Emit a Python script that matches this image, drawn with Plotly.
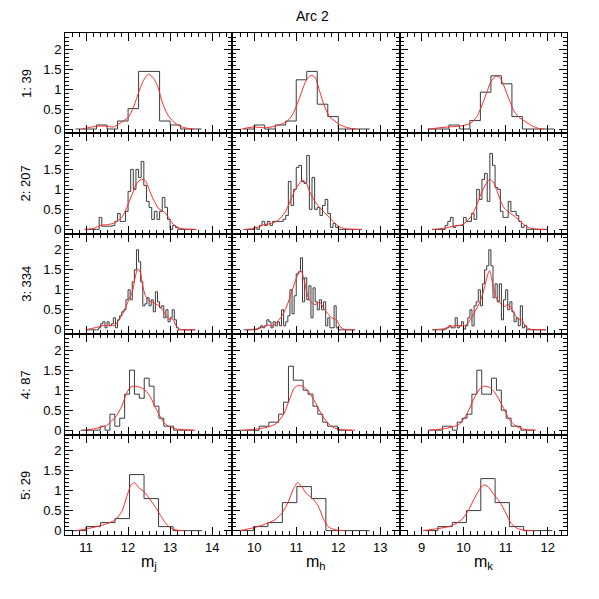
import plotly.graph_objects as go
from plotly.subplots import make_subplots

# rows: field number and star count, columns: bands
row_labels = ["1: 39", "2: 207", "3: 334", "4: 87", "5: 29"]
band_titles = ["m<sub>j</sub>", "m<sub>h</sub>", "m<sub>k</sub>"]
x_ranges = [[10.5, 14.48], [9.48, 13.46], [8.48, 12.46]]
y_range = [-0.11, 2.4]

# histogram bins: first edge and bin width for each row
bin_start_j = [10.75, 11.0, 11.0, 10.87, 10.655]
bin_start_h = [9.75, 9.75, 9.75, 9.65, 9.635]
bin_start_k = [9.15, 9.25, 9.25, 9.15, 9.05]
bin_width_j = [0.25, 0.0625, 0.05, 0.1165, 0.345]
bin_width_h = [0.25, 0.0625, 0.05, 0.1165, 0.345]
bin_width_k = [0.25, 0.0625, 0.05, 0.1165, 0.34]

# histogram heights (normalised)
hist_j1 = [0, 0, 0.1, 0, 0.2, 0.51, 1.44, 1.44, 0.2, 0.1, 0, 0]
hist_h1 = [0, 0.1, 0, 0.1, 0.2, 1.23, 1.44, 0.62, 0.31, 0, 0, 0]
hist_k1 = [0, 0, 0.1, 0, 0.21, 0.92, 1.33, 1.13, 0.31, 0, 0, 0]

hist_j2 = [0, 0, 0, 0, 0, 0.3, 0.08, 0.08, 0.08, 0.08, 0.1, 0.2, 0.4, 0.2, 0.2, 0.45,
           0.95, 1.5, 1.0, 1.5, 1.3, 1.7, 1.1, 0.7, 0.55, 0.25, 0.45, 0.25, 0.45, 0.8,
           0.55, 0.25, 0.0, 0.1, 0.05, 0, 0, 0, 0, 0, 0, 0]
hist_h2 = [0, 0, 0, 0, 0.05, 0, 0.1, 0.2, 0.1, 0.2, 0.1, 0.2, 0.2, 0.2, 0.2, 0.25,
           0.35, 1.2, 0.6, 1.0, 1.55, 1.6, 1.2, 1.15, 1.85, 0.5, 1.3, 0.5, 0.55, 0.35,
           0.6, 0.75, 0.4, 0.05, 0.15, 0.05, 0, 0, 0, 0, 0, 0, 0, 0, 0]
hist_k2 = [0, 0, 0, 0, 0, 0.1, 0.2, 0.3, 0.05, 0.1, 0.1, 0.1, 0.3, 0.2, 0.2, 0.4,
           0.25, 1.0, 0.75, 1.25, 1.4, 0.7, 1.9, 1.6, 1.05, 1.0, 0.45, 0.3, 0.3, 0.7,
           0.45, 0.45, 0.35, 0.2, 0.05, 0.1, 0, 0, 0, 0, 0, 0, 0, 0]

hist_j3 = [0, 0, 0, 0, 0, 0, 0.05, 0.15, 0.2, 0.05, 0.2, 0.1, 0.15, 0.3, 0.05, 0.25,
           0.35, 0.45, 0.5, 0.75, 1.0, 0.75, 1.2, 1.5, 2.0, 1.7, 1.2, 0.6, 0.65, 0.8,
           0.6, 0.75, 0.45, 0.95, 0.7, 0.55, 0.6, 0.3, 0.5, 0.2, 0.3, 0.5, 0.25, 0.05,
           0, 0, 0, 0, 0, 0, 0, 0]
hist_h3 = [0, 0, 0, 0, 0, 0, 0.02, 0.05, 0.1, 0.05, 0.1, 0.25, 0.2, 0.05, 0.2, 0.1,
           0.2, 0.1, 0.5, 0.1, 0.2, 0.35, 1.0, 0.4, 0.85, 1.4, 1.45, 1.8, 0.7, 1.3,
           0.75, 1.1, 0.3, 1.05, 0.7, 0.5, 0.75, 0.5, 0.7, 0.1, 0.3, 0.05, 0.05, 0.6,
           0.05, 0, 0, 0, 0, 0, 0, 0, 0]
hist_k3 = [0, 0, 0, 0, 0, 0, 0.02, 0.05, 0.1, 0.05, 0.05, 0.3, 0.05, 0.1, 0.2, 0.02,
           0.1, 0.3, 0.5, 0.1, 0.6, 0.7, 1.0, 0.6, 1.15, 1.5, 1.6, 2.0, 1.6, 0.8,
           1.15, 0.7, 1.15, 0.25, 0.75, 1.0, 0.5, 0.7, 0.45, 0.2, 0.3, 0.1, 0.6, 0.05,
           0.1, 0, 0, 0, 0, 0, 0, 0, 0, 0]

hist_j4 = [0, 0, 0, 0, 0.1, 0, 0.4, 0.1, 0.3, 0.9, 1.5, 0.9, 0.8, 1.3, 1.1, 0.6,
           0.3, 0.1, 0.1, 0, 0, 0, 0]
hist_h4 = [0, 0, 0, 0, 0.1, 0.1, 0.2, 0.2, 0.4, 0.7, 1.6, 1.25, 1.25, 1.0, 0.9, 0.6,
           0.4, 0.2, 0.1, 0.1, 0, 0, 0]
hist_k4 = [0, 0, 0, 0.1, 0.1, 0, 0.2, 0.3, 0.4, 0.9, 1.5, 0.9, 0.9, 1.3, 1.0, 0.5,
           0.3, 0.1, 0.1, 0, 0, 0]

hist_j5 = [0, 0.1, 0.2, 0.3, 1.4, 0.8, 0.1, 0, 0]
hist_h5 = [0, 0.1, 0.2, 0.7, 1.1, 0.8, 0, 0, 0]
hist_k5 = [0, 0.1, 0.2, 0.5, 1.3, 0.7, 0.1, 0, 0]

# smooth (red) curves
curve_x_j1 = [10.90, 11.25, 11.49, 11.65, 11.77, 12.01, 12.13, 12.27, 12.37, 12.49, 12.61,
              12.71, 12.81, 12.93, 13.08, 13.24, 13.40, 13.56]
curve_y_j1 = [0, 0.07, 0.07, 0.05, 0.12, 0.30, 0.55, 0.97, 1.22, 1.37, 1.26, 1.05, 0.68,
              0.38, 0.18, 0.07, 0.02, 0]
curve_x_h1 = [9.70, 9.98, 10.24, 10.49, 10.75, 10.89, 11.01, 11.13, 11.24, 11.35, 11.44,
              11.56, 11.68, 11.80, 11.92, 12.03, 12.23, 12.43]
curve_y_h1 = [0, 0.05, 0.03, 0.07, 0.17, 0.32, 0.59, 0.93, 1.22, 1.34, 1.30, 0.93, 0.55,
              0.30, 0.20, 0.11, 0.03, 0]
curve_x_k1 = [9.16, 9.63, 9.88, 10.14, 10.30, 10.42, 10.54, 10.66, 10.78, 10.88, 10.97,
              11.09, 11.21, 11.33, 11.45, 11.61, 11.80, 11.92]
curve_y_k1 = [0, 0.05, 0.07, 0.13, 0.28, 0.55, 0.88, 1.20, 1.32, 1.26, 1.05, 0.72, 0.43,
              0.28, 0.20, 0.09, 0.01, 0]

curve_x_j2 = [10.96, 11.21, 11.33, 11.53, 11.69, 11.85, 11.97, 12.09, 12.21, 12.31, 12.41,
              12.50, 12.61, 12.73, 12.85, 12.96, 13.08, 13.20, 13.36, 13.60]
curve_y_j2 = [0, 0.03, 0.10, 0.12, 0.17, 0.30, 0.55, 0.86, 1.15, 1.25, 1.22, 1.00, 0.73,
              0.52, 0.44, 0.30, 0.12, 0.04, 0.01, 0]
curve_x_h2 = [9.79, 10.02, 10.21, 10.41, 10.57, 10.73, 10.85, 10.97, 11.09, 11.15, 11.24,
              11.32, 11.43, 11.53, 11.62, 11.73, 11.85, 11.96, 12.08, 12.23, 12.55]
curve_y_h2 = [0, 0.03, 0.11, 0.15, 0.23, 0.42, 0.69, 0.98, 1.17, 1.23, 1.15, 0.94, 0.73,
              0.58, 0.48, 0.36, 0.23, 0.11, 0.04, 0.01, 0]
curve_x_k2 = [9.28, 9.55, 9.75, 9.95, 10.07, 10.18, 10.30, 10.42, 10.54, 10.62, 10.70,
              10.78, 10.88, 10.97, 11.09, 11.21, 11.33, 11.45, 11.57, 11.72, 11.96]
curve_y_k2 = [0, 0.03, 0.08, 0.11, 0.19, 0.33, 0.57, 0.90, 1.15, 1.25, 1.19, 1.00, 0.72,
              0.53, 0.42, 0.33, 0.22, 0.11, 0.04, 0.01, 0]

curve_x_j3 = [10.99, 11.29, 11.41, 11.57, 11.69, 11.77, 11.89, 12.01, 12.11, 12.17, 12.23,
              12.29, 12.34, 12.41, 12.49, 12.58, 12.69, 12.79, 12.89, 12.96, 13.06, 13.14,
              13.22, 13.36, 13.60]
curve_y_j3 = [0, 0.07, 0.11, 0.11, 0.12, 0.23, 0.44, 0.73, 0.98, 1.32, 1.52, 1.44, 1.15,
              0.86, 0.73, 0.69, 0.63, 0.55, 0.38, 0.27, 0.27, 0.11, 0.02, 0, 0]
curve_x_h3 = [9.82, 10.10, 10.21, 10.33, 10.45, 10.57, 10.69, 10.81, 10.93, 11.03, 11.11,
              11.19, 11.25, 11.32, 11.44, 11.56, 11.66, 11.76, 11.84, 11.96, 12.04, 12.15,
              12.39]
curve_y_h3 = [0, 0.03, 0.07, 0.12, 0.10, 0.23, 0.40, 0.69, 1.07, 1.36, 1.48, 1.23, 0.94,
              0.73, 0.63, 0.69, 0.52, 0.40, 0.30, 0.25, 0.08, 0.01, 0]
curve_x_k3 = [9.28, 9.55, 9.67, 9.87, 10.03, 10.12, 10.22, 10.33, 10.42, 10.50, 10.58,
              10.62, 10.67, 10.74, 10.82, 10.89, 10.97, 11.05, 11.13, 11.21, 11.29, 11.38,
              11.49, 11.57, 11.96]
curve_y_k3 = [0, 0.03, 0.08, 0.11, 0.10, 0.19, 0.36, 0.57, 0.78, 1.07, 1.40, 1.48, 1.27,
              0.90, 0.73, 0.65, 0.58, 0.63, 0.55, 0.40, 0.27, 0.25, 0.07, 0.02, 0]

curve_x_j4 = [10.94, 11.18, 11.33, 11.49, 11.61, 11.73, 11.85, 11.93, 12.05, 12.17, 12.29,
              12.41, 12.53, 12.65, 12.77, 12.89, 13.00, 13.16, 13.36, 13.60]
curve_y_j4 = [0, 0.03, 0.07, 0.12, 0.23, 0.37, 0.60, 0.83, 1.07, 1.10, 1.07, 1.00, 0.83,
              0.57, 0.33, 0.15, 0.08, 0.03, 0.01, 0]
curve_x_h4 = [9.75, 10.20, 10.50, 10.70, 10.85, 10.95, 11.05, 11.15, 11.30, 11.45, 11.60,
              11.75, 11.90, 12.10, 12.40]
curve_y_h4 = [0, 0.05, 0.15, 0.40, 0.80, 1.05, 1.12, 1.10, 0.95, 0.70, 0.40, 0.18, 0.06,
              0.01, 0]
curve_x_k4 = [9.20, 9.60, 9.90, 10.10, 10.25, 10.40, 10.50, 10.65, 10.80, 10.95, 11.10,
              11.25, 11.45, 11.70]
curve_y_k4 = [0, 0.05, 0.15, 0.45, 0.80, 1.05, 1.10, 1.05, 0.85, 0.55, 0.25, 0.10, 0.02, 0]

curve_x_j5 = [10.78, 11.00, 11.25, 11.49, 11.69, 11.85, 11.97, 12.07, 12.15, 12.25, 12.37,
              12.53, 12.69, 12.85, 12.97, 13.12, 13.32]
curve_y_j5 = [0, 0.04, 0.10, 0.17, 0.27, 0.48, 0.85, 1.14, 1.20, 1.08, 0.98, 0.77, 0.52,
              0.25, 0.10, 0.02, 0]
curve_x_h5 = [9.66, 9.98, 10.26, 10.49, 10.67, 10.81, 10.93, 11.03, 11.13, 11.24, 11.38,
              11.52, 11.64, 11.76, 11.92, 12.16]
curve_y_h5 = [0, 0.07, 0.16, 0.27, 0.45, 0.72, 1.03, 1.20, 1.10, 0.93, 0.81, 0.62, 0.31,
              0.10, 0.02, 0]
curve_x_k5 = [9.04, 9.39, 9.71, 9.95, 10.10, 10.26, 10.38, 10.48, 10.58, 10.70, 10.86,
              11.01, 11.13, 11.29, 11.45, 11.68]
curve_y_k5 = [0, 0.05, 0.12, 0.27, 0.48, 0.81, 1.03, 1.14, 1.10, 0.93, 0.72, 0.43, 0.18,
              0.05, 0.01, 0]

hists = [[hist_j1, hist_h1, hist_k1], [hist_j2, hist_h2, hist_k2], [hist_j3, hist_h3, hist_k3],
         [hist_j4, hist_h4, hist_k4], [hist_j5, hist_h5, hist_k5]]
curves = [[(curve_x_j1, curve_y_j1), (curve_x_h1, curve_y_h1), (curve_x_k1, curve_y_k1)],
          [(curve_x_j2, curve_y_j2), (curve_x_h2, curve_y_h2), (curve_x_k2, curve_y_k2)],
          [(curve_x_j3, curve_y_j3), (curve_x_h3, curve_y_h3), (curve_x_k3, curve_y_k3)],
          [(curve_x_j4, curve_y_j4), (curve_x_h4, curve_y_h4), (curve_x_k4, curve_y_k4)],
          [(curve_x_j5, curve_y_j5), (curve_x_h5, curve_y_h5), (curve_x_k5, curve_y_k5)]]
starts = [bin_start_j, bin_start_h, bin_start_k]
widths = [bin_width_j, bin_width_h, bin_width_k]

FONT = "Liberation Sans"

fig = make_subplots(rows=5, cols=3, horizontal_spacing=0, vertical_spacing=0)

for r in range(5):
    for c in range(3):
        h = hists[r][c]
        s = starts[c][r]
        w = widths[c][r]
        edges = [s + w * i for i in range(len(h) + 1)]
        fig.add_trace(go.Scatter(x=edges, y=list(h) + [h[-1]], mode="lines",
                                 line=dict(color="#3a3a3a", width=1, shape="hv"),
                                 showlegend=False, hoverinfo="skip"),
                      row=r + 1, col=c + 1)
        cx, cy = curves[r][c]
        fig.add_trace(go.Scatter(x=cx, y=cy, mode="lines",
                                 line=dict(color="#ff2a2a", width=1, shape="spline",
                                           smoothing=0.8),
                                 showlegend=False, hoverinfo="skip"),
                      row=r + 1, col=c + 1)

        fig.update_xaxes(range=x_ranges[c], dtick=1, tick0=0, showticklabels=(r == 4),
                         showline=True, linecolor="black", linewidth=1, mirror="allticks",
                         ticks="inside", ticklen=8, tickcolor="black", showgrid=False,
                         zeroline=False,
                         minor=dict(ticks="inside", ticklen=4, dtick=1 / 6, tick0=0,
                                    tickcolor="black", showgrid=False),
                         tickfont=dict(family=FONT, size=13, color="black"),
                         row=r + 1, col=c + 1)
        fig.update_yaxes(range=y_range, dtick=0.5, tick0=0, showticklabels=(c == 0),
                         showline=True, linecolor="black", linewidth=1, mirror="allticks",
                         ticks="inside", ticklen=8, tickcolor="black", showgrid=False,
                         zeroline=False,
                         minor=dict(ticks="inside", ticklen=4, dtick=0.1, tick0=0,
                                    tickcolor="black", showgrid=False),
                         tickfont=dict(family=FONT, size=13, color="black"),
                         row=r + 1, col=c + 1)

annotations = []
for r, lab in enumerate(row_labels):
    annotations.append(dict(text=lab, xref="paper", yref="paper", x=-0.078,
                            y=1 - (r + 0.5) / 5, textangle=-90, showarrow=False,
                            font=dict(family=FONT, size=13, color="black"),
                            xanchor="center", yanchor="middle"))
for c, t in enumerate(band_titles):
    annotations.append(dict(text=t, xref="paper", yref="paper", x=(c + 0.5) / 3,
                            y=-0.054, showarrow=False,
                            font=dict(family=FONT, size=16, color="black"),
                            xanchor="center", yanchor="middle"))
annotations.append(dict(text="Arc 2", xref="paper", yref="paper", x=0.494, y=1.034,
                        showarrow=False, font=dict(family=FONT, size=14, color="black"),
                        xanchor="center", yanchor="middle"))

# page body adds an 8 px offset, so margins are trimmed on the left/top
fig.update_layout(width=599, height=599, margin=dict(l=57, r=40, t=25, b=72),
                  paper_bgcolor="white", plot_bgcolor="white",
                  annotations=annotations)

fig.write_html("out.html")
